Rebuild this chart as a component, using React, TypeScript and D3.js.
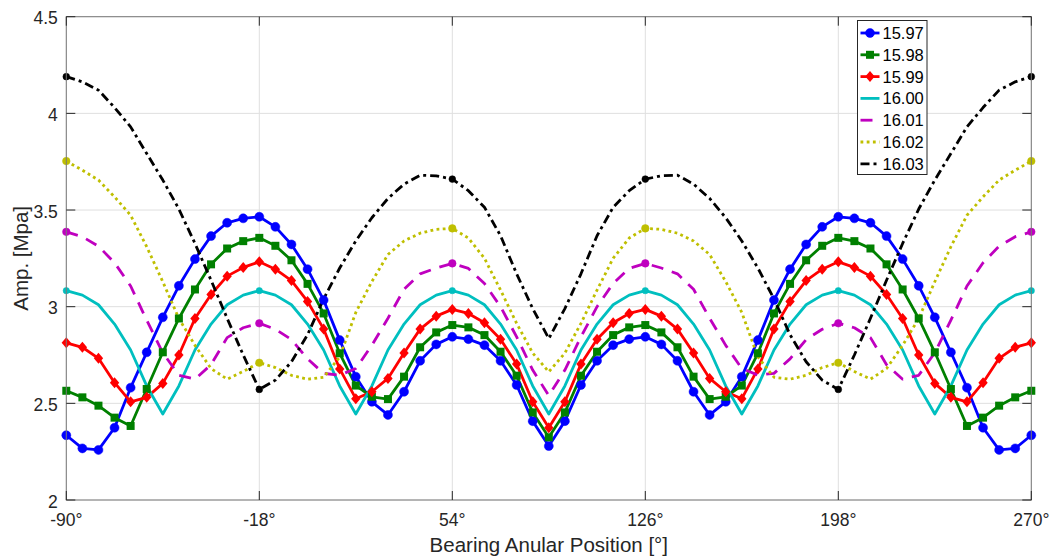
import React from 'react';
import * as d3 from 'd3';

// x positions: bearing angular position in degrees, 6° steps
const angles: number[] = d3.range(-90, 271, 6);

const seriesNames = ['15.97', '15.98', '15.99', '16.00', '16.01', '16.02', '16.03'];

const s1597 = [2.335, 2.267, 2.259, 2.374, 2.581, 2.764, 2.945, 3.108, 3.246, 3.365, 3.434, 3.457, 3.465, 3.413, 3.322, 3.194, 3.034, 2.827, 2.638, 2.508, 2.44, 2.56, 2.72, 2.805, 2.844, 2.832, 2.801, 2.72, 2.595, 2.408, 2.279,
  2.408, 2.595, 2.72, 2.801, 2.832, 2.844, 2.805, 2.72, 2.56, 2.44, 2.508, 2.638, 2.827, 3.034, 3.194, 3.322, 3.413, 3.465, 3.457, 3.434, 3.365, 3.246, 3.108, 2.945, 2.764, 2.581, 2.374, 2.259, 2.267, 2.335];

const s1598 = [2.565, 2.531, 2.488, 2.426, 2.383, 2.574, 2.764, 2.939, 3.089, 3.219, 3.301, 3.339, 3.356, 3.315, 3.24, 3.118, 2.965, 2.759, 2.592, 2.534, 2.522, 2.638, 2.79, 2.867, 2.905, 2.893, 2.853, 2.767, 2.643, 2.453, 2.324,
  2.453, 2.643, 2.767, 2.853, 2.893, 2.905, 2.867, 2.79, 2.638, 2.522, 2.534, 2.592, 2.759, 2.965, 3.118, 3.24, 3.315, 3.356, 3.339, 3.301, 3.219, 3.089, 2.939, 2.764, 2.574, 2.383, 2.426, 2.488, 2.531, 2.565];

const s1599 = [2.813, 2.79, 2.733, 2.607, 2.508, 2.531, 2.603, 2.75, 2.939, 3.063, 3.158, 3.203, 3.232, 3.194, 3.135, 3.027, 2.885, 2.678, 2.524, 2.56, 2.629, 2.76, 2.884, 2.951, 2.986, 2.965, 2.917, 2.832, 2.703, 2.508, 2.374,
  2.508, 2.703, 2.832, 2.917, 2.965, 2.986, 2.951, 2.884, 2.76, 2.629, 2.56, 2.524, 2.678, 2.885, 3.027, 3.135, 3.194, 3.232, 3.203, 3.158, 3.063, 2.939, 2.75, 2.603, 2.531, 2.508, 2.607, 2.733, 2.79, 2.813];

const s1600 = [3.083, 3.06, 3.01, 2.91, 2.776, 2.59, 2.445, 2.59, 2.776, 2.91, 3.01, 3.06,
  3.083, 3.06, 3.01, 2.91, 2.776, 2.59, 2.445, 2.59, 2.776, 2.91, 3.01, 3.06,
  3.083, 3.06, 3.01, 2.91, 2.776, 2.59, 2.445, 2.59, 2.776, 2.91, 3.01, 3.06,
  3.083, 3.06, 3.01, 2.91, 2.776, 2.59, 2.445, 2.59, 2.776, 2.91, 3.01, 3.06,
  3.083, 3.06, 3.01, 2.91, 2.776, 2.59, 2.445, 2.59, 2.776, 2.91, 3.01, 3.06, 3.083];

const s1601 = [3.387, 3.362, 3.313, 3.227, 3.107, 2.93, 2.762, 2.645, 2.625, 2.7, 2.84, 2.891, 2.914, 2.883, 2.83, 2.73, 2.655, 2.646, 2.68, 2.8, 2.94, 3.09, 3.17, 3.2, 3.224, 3.198, 3.12, 3.0, 2.844, 2.672, 2.54,
  2.672, 2.844, 3.0, 3.12, 3.198, 3.224, 3.2, 3.17, 3.09, 2.94, 2.8, 2.68, 2.646, 2.655, 2.73, 2.83, 2.883, 2.914, 2.891, 2.84, 2.7, 2.625, 2.645, 2.762, 2.93, 3.107, 3.227, 3.313, 3.362, 3.387];

const s1602 = [3.753, 3.706, 3.655, 3.568, 3.473, 3.31, 3.129, 2.939, 2.8, 2.68, 2.625, 2.665, 2.71, 2.685, 2.645, 2.625, 2.635, 2.74, 2.97, 3.13, 3.27, 3.34, 3.38, 3.4, 3.405, 3.355, 3.25, 3.086, 2.914, 2.76, 2.663,
  2.76, 2.914, 3.086, 3.25, 3.355, 3.405, 3.4, 3.38, 3.34, 3.27, 3.13, 2.97, 2.74, 2.635, 2.625, 2.645, 2.685, 2.71, 2.665, 2.625, 2.68, 2.8, 2.939, 3.129, 3.31, 3.473, 3.568, 3.655, 3.706, 3.753];

const s1603 = [4.19, 4.163, 4.12, 4.03, 3.93, 3.792, 3.655, 3.505, 3.327, 3.137, 2.94, 2.75, 2.572, 2.62, 2.715, 2.855, 3.04, 3.2, 3.34, 3.46, 3.56, 3.634, 3.68, 3.677, 3.66, 3.6, 3.514, 3.367, 3.17, 2.99, 2.835,
  2.99, 3.17, 3.367, 3.514, 3.6, 3.66, 3.677, 3.68, 3.634, 3.56, 3.46, 3.34, 3.2, 3.04, 2.855, 2.715, 2.62, 2.572, 2.75, 2.94, 3.137, 3.327, 3.505, 3.655, 3.792, 3.93, 4.03, 4.12, 4.163, 4.19];

const xTicks = [-90, -18, 54, 126, 198, 270];
const xTickLabels = ['-90°', '-18°', '54°', '126°', '198°', '270°'];
const yTicks = [2, 2.5, 3, 3.5, 4, 4.5];
const yTickLabels = ['2', '2.5', '3', '3.5', '4', '4.5'];

type Marker = 'circle' | 'square' | 'diamond' | 'dot' | 'none';

const styles: { color: string; dash: string | null; marker: Marker; every: number; size: number; cap: string }[] = [
  { color: '#0000ff', dash: null, marker: 'circle', every: 1, size: 4.5, cap: 'round' },
  { color: '#008000', dash: null, marker: 'square', every: 1, size: 4, cap: 'round' },
  { color: '#ff0000', dash: null, marker: 'diamond', every: 1, size: 5.5, cap: 'round' },
  { color: '#00bfbf', dash: null, marker: 'dot', every: 12, size: 3.2, cap: 'round' },
  { color: '#bf00bf', dash: '12,9', marker: 'dot', every: 12, size: 3.8, cap: 'butt' },
  { color: '#bfbf00', dash: '2.8,3.4', marker: 'dot', every: 12, size: 3.8, cap: 'butt' },
  { color: '#000000', dash: '9,4,3,4', marker: 'dot', every: 12, size: 3.4, cap: 'butt' },
];

const allSeries = [s1597, s1598, s1599, s1600, s1601, s1602, s1603];

const FONT = '"Liberation Sans", Arial, Helvetica, sans-serif';
const TXT = '#262626';

function MarkerShape({ kind, cx, cy, size, color }: { kind: Marker; cx: number; cy: number; size: number; color: string }) {
  if (kind === 'circle' || kind === 'dot') return <circle cx={cx} cy={cy} r={size} fill={color} stroke={color} strokeWidth={0.5} />;
  if (kind === 'square') return <rect x={cx - size} y={cy - size} width={size * 2} height={size * 2} fill={color} />;
  if (kind === 'diamond')
    return <path d={`M${cx},${cy - size}L${cx + size * 0.85},${cy}L${cx},${cy + size}L${cx - size * 0.85},${cy}Z`} fill={color} />;
  return null;
}

export default function App() {
  const W = 1057;
  const H = 560;
  const left = 66.3, right = 1031.3, top = 16.7, bottom = 500;
  const x = d3.scaleLinear().domain([-90, 270]).range([left, right]);
  const y = d3.scaleLinear().domain([2, 4.5]).range([bottom, top]);
  const line = d3.line<number>().x((_, i) => x(angles[i])).y((d) => y(d));

  const legX = 857.5, legY = 20.5, legW = 69.5, legH = 154;
  const rowH = 21.8;

  return (
    <svg width={W} height={H} style={{ position: 'absolute', left: 0, top: 0, background: '#fff' }} fontFamily={FONT}>
      <rect x={0} y={0} width={W} height={H} fill="#fff" />
      {/* grid */}
      <g stroke="#dfdfdf" strokeWidth={1}>
        {xTicks.map((t) => (
          <line key={'gx' + t} x1={x(t)} x2={x(t)} y1={top} y2={bottom} />
        ))}
        {yTicks.map((t) => (
          <line key={'gy' + t} x1={left} x2={right} y1={y(t)} y2={y(t)} />
        ))}
      </g>
      {/* series */}
      <g fill="none">
        {allSeries.map((s, k) => {
          const st = styles[k];
          return (
            <path
              key={'l' + k}
              d={line(s) || ''}
              stroke={st.color}
              strokeWidth={2.8}
              strokeDasharray={st.dash || undefined}
              strokeLinecap={st.cap as any}
              strokeLinejoin="round"
            />
          );
        })}
      </g>
      {allSeries.map((s, k) => {
        const st = styles[k];
        return (
          <g key={'m' + k}>
            {s.map((v, i) =>
              i % st.every === 0 ? (
                <MarkerShape key={i} kind={st.marker} cx={x(angles[i])} cy={y(v)} size={st.size} color={st.color} />
              ) : null
            )}
          </g>
        );
      })}
      {/* axes box */}
      <rect x={left} y={top} width={right - left} height={bottom - top} fill="none" stroke="#7a7a7a" strokeWidth={1} />
      {/* ticks */}
      <g stroke={TXT} strokeWidth={1}>
        {xTicks.map((t) => (
          <g key={'tx' + t}>
            <line x1={x(t)} x2={x(t)} y1={bottom} y2={bottom - 9} />
            <line x1={x(t)} x2={x(t)} y1={top} y2={top + 9} />
          </g>
        ))}
        {yTicks.map((t) => (
          <g key={'ty' + t}>
            <line x1={left} x2={left + 9} y1={y(t)} y2={y(t)} />
            <line x1={right} x2={right - 9} y1={y(t)} y2={y(t)} />
          </g>
        ))}
      </g>
      {/* tick labels */}
      <g fill={TXT} fontSize={17.5}>
        {xTicks.map((t, i) => (
          <text key={'lx' + t} x={x(t)} y={bottom + 25.5} textAnchor="middle">
            {xTickLabels[i]}
          </text>
        ))}
        {yTicks.map((t, i) => (
          <text key={'ly' + t} x={left - 8.5} y={y(t) + 7.5} textAnchor="end">
            {yTickLabels[i]}
          </text>
        ))}
      </g>
      {/* axis labels */}
      <text x={(left + right) / 2} y={552} textAnchor="middle" fontSize={20.5} fill={TXT}>
        Bearing Anular Position [°]
      </text>
      <text transform={`translate(28,${(top + bottom) / 2}) rotate(-90)`} textAnchor="middle" fontSize={20.5} fill={TXT}>
        Amp. [Mpa]
      </text>
      {/* legend */}
      <g>
        <rect x={legX} y={legY} width={legW} height={legH} fill="#fff" stroke="#262626" strokeWidth={1} />
        {seriesNames.map((nm, k) => {
          const st = styles[k];
          const cy = legY + 12.5 + k * rowH;
          const x1 = legX + 3, x2 = legX + 22;
          return (
            <g key={'lg' + k}>
              <line x1={x1} x2={x2} y1={cy} y2={cy} stroke={st.color} strokeWidth={2.8} strokeDasharray={st.dash || undefined} strokeLinecap="butt" />
              {k < 3 ? <MarkerShape kind={st.marker} cx={(x1 + x2) / 2} cy={cy} size={st.size} color={st.color} /> : null}
              <text x={legX + 25} y={cy + 6} fontSize={16.5} fill="#000">
                {nm}
              </text>
            </g>
          );
        })}
      </g>
    </svg>
  );
}
